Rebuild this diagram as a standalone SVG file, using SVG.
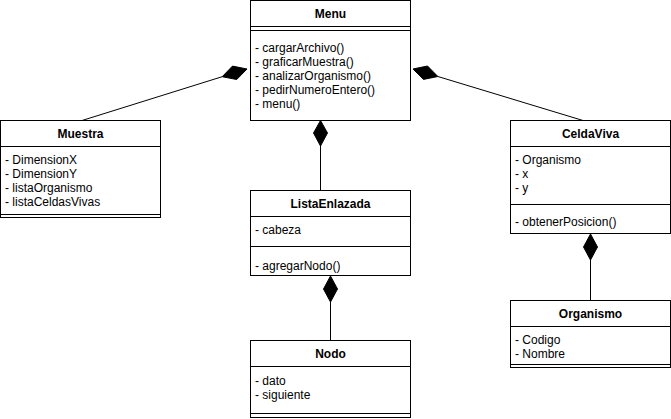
<svg xmlns="http://www.w3.org/2000/svg" width="671" height="419" viewBox="0 0 671 419">
<style>
.box{fill:#ffffff;stroke:#000000;stroke-width:1}
.ln{stroke:#000000;stroke-width:1;fill:none}
.dia{fill:#000000;stroke:#000000;stroke-width:1}
.t{font-family:"Liberation Sans",Arial,sans-serif;font-size:12px;fill:#000000}
.h{font-family:"Liberation Sans",Arial,sans-serif;font-size:12px;font-weight:bold;fill:#000000;text-anchor:middle}
</style>
<rect width="671" height="419" fill="#ffffff"/>
<g id="connectors">
<line class="ln" x1="82" y1="120.5" x2="222.2" y2="76.7"/>
<polygon class="dia" points="247,69 232.5,66.1 222.2,76.7 236.7,79.5"/>
<line class="ln" x1="583" y1="120.5" x2="437.9" y2="76.5"/>
<polygon class="dia" points="413,69 427.5,66 437.9,76.5 423.5,79.4"/>
<line class="ln" x1="320.5" y1="146" x2="320.5" y2="190.5"/>
<polygon class="dia" points="320.5,120.5 327.5,133 320.5,146 313.5,133"/>
<line class="ln" x1="330.5" y1="302" x2="330.5" y2="340.5"/>
<polygon class="dia" points="330.5,276 337.5,289 330.5,302 323.5,289"/>
<line class="ln" x1="590.5" y1="260" x2="590.5" y2="300.5"/>
<polygon class="dia" points="590.5,234 597.5,247 590.5,260 583.5,247"/>
</g>
<g id="Menu">
<rect class="box" x="250.5" y="0.5" width="160" height="120"/>
<line class="ln" x1="250.5" y1="26.5" x2="410.5" y2="26.5"/>
<line class="ln" x1="250.5" y1="30.5" x2="410.5" y2="30.5"/>
<text class="h" x="330.5" y="18">Menu</text>
<text class="t" x="255" y="52">- cargarArchivo()</text>
<text class="t" x="255" y="66">- graficarMuestra()</text>
<text class="t" x="255" y="80">- analizarOrganismo()</text>
<text class="t" x="255" y="94">- pedirNumeroEntero()</text>
<text class="t" x="255" y="108">- menu()</text>
</g>
<g id="Muestra">
<rect class="box" x="0.5" y="120.5" width="160" height="97"/>
<line class="ln" x1="0.5" y1="146.5" x2="160.5" y2="146.5"/>
<line class="ln" x1="0.5" y1="214.5" x2="160.5" y2="214.5"/>
<text class="h" x="80.5" y="138">Muestra</text>
<text class="t" x="5" y="164">- DimensionX</text>
<text class="t" x="5" y="178">- DimensionY</text>
<text class="t" x="5" y="192">- listaOrganismo</text>
<text class="t" x="5" y="206">- listaCeldasVivas</text>
</g>
<g id="CeldaViva">
<rect class="box" x="510.5" y="120.5" width="160" height="113"/>
<line class="ln" x1="510.5" y1="146.5" x2="670.5" y2="146.5"/>
<line class="ln" x1="510.5" y1="204.5" x2="670.5" y2="204.5"/>
<text class="h" x="590.5" y="138">CeldaViva</text>
<text class="t" x="515" y="164">- Organismo</text>
<text class="t" x="515" y="178">- x</text>
<text class="t" x="515" y="192">- y</text>
<text class="t" x="515" y="226">- obtenerPosicion()</text>
</g>
<g id="ListaEnlazada">
<rect class="box" x="250.5" y="190.5" width="160" height="85"/>
<line class="ln" x1="250.5" y1="216.5" x2="410.5" y2="216.5"/>
<line class="ln" x1="250.5" y1="246.5" x2="410.5" y2="246.5"/>
<text class="h" x="330.5" y="208">ListaEnlazada</text>
<text class="t" x="255" y="234">- cabeza</text>
<text class="t" x="255" y="270">- agregarNodo()</text>
</g>
<g id="Nodo">
<rect class="box" x="250.5" y="340.5" width="160" height="77"/>
<line class="ln" x1="250.5" y1="366.5" x2="410.5" y2="366.5"/>
<line class="ln" x1="250.5" y1="413.5" x2="410.5" y2="413.5"/>
<text class="h" x="330.5" y="358">Nodo</text>
<text class="t" x="255" y="385">- dato</text>
<text class="t" x="255" y="399">- siguiente</text>
</g>
<g id="Organismo">
<rect class="box" x="510.5" y="300.5" width="160" height="67"/>
<line class="ln" x1="510.5" y1="326.5" x2="670.5" y2="326.5"/>
<line class="ln" x1="510.5" y1="364.5" x2="670.5" y2="364.5"/>
<text class="h" x="590.5" y="318">Organismo</text>
<text class="t" x="515" y="344">- Codigo</text>
<text class="t" x="515" y="358">- Nombre</text>
</g>
</svg>
